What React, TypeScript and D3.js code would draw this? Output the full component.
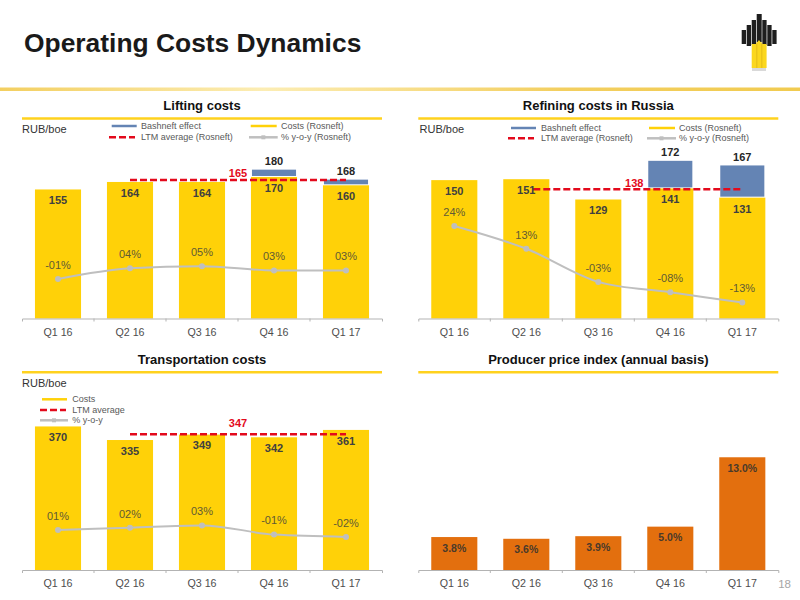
import { useEffect, useRef } from 'react';
import * as d3 from 'd3';

const quarters = ['Q1 16', 'Q2 16', 'Q3 16', 'Q4 16', 'Q1 17'];

const liftingCosts = [155, 164, 164, 170, 160];
const liftingTotals = [null, null, null, 180, 168];
const liftingPct = [-1, 4, 5, 3, 3];

const refiningCosts = [150, 151, 129, 141, 131];
const refiningTotals = [null, null, null, 172, 167];
const refiningPct = [24, 13, -3, -8, -13];

const transportCosts = [370, 335, 349, 342, 361];
const transportPct = [1, 2, 3, -1, -2];

const ppiValues = [3.8, 3.6, 3.9, 5.0, 13.0];

const YELLOW = '#FFD108';
const BLUE = '#6484B4';
const RED = '#E30A1C';
const GRAY = '#BFBFBF';
const ORANGE = '#E36F0E';
const FONT = '"Liberation Sans", Arial, sans-serif';

const pctLabel = (v: number) => (v < 0 ? '-' : '') + String(Math.abs(v)).padStart(2, '0') + '%';

interface Panel {
  title: string;
  left: number;
  ruleY: number;
  titleY: number;
  base: number;
  yDomain: [number, number];
  yTop: number;
  costs: number[];
  totals?: (number | null)[];
  pct?: number[];
  pctRange?: [number, number];
  ltm?: number;
  ltmY?: number; // the dashed line sits on its own axis in the original
  ltmLabelY?: number;
  ltmStartPad?: number;
  color: string;
  format?: (v: number) => string;
}

const panels: Panel[] = [
  {
    title: 'Lifting costs', left: 22, ruleY: 118.5, titleY: 110, base: 318.5,
    yDomain: [0, 200], yTop: 152, costs: liftingCosts, totals: liftingTotals,
    pct: liftingPct, pctRange: [319.7, 212.7], ltm: 165, ltmY: 180, ltmLabelY: 173.3, color: YELLOW,
  },
  {
    title: 'Refining costs in Russia', left: 418.3, ruleY: 118.5, titleY: 110, base: 318.5,
    yDomain: [0, 200], yTop: 134, costs: refiningCosts, totals: refiningTotals,
    pct: refiningPct, pctRange: [317.1, 213.6], ltm: 138, ltmY: 189.3, ltmLabelY: 183, ltmStartPad: 7, color: YELLOW,
  },
  {
    title: 'Transportation costs', left: 22, ruleY: 372.3, titleY: 364, base: 570,
    yDomain: [0, 400], yTop: 414.8, costs: transportCosts,
    pct: transportPct, pctRange: [578.3, 463.3], ltm: 347, ltmY: 434.3, ltmLabelY: 423.3, color: YELLOW,
  },
  {
    title: 'Producer price index (annual basis)', left: 418.3, ruleY: 372.3, titleY: 364, base: 570,
    yDomain: [0, 14], yTop: 448.6, costs: ppiValues, color: ORANGE,
    format: v => v.toFixed(1) + '%',
  },
];

type Sel = d3.Selection<SVGGElement, unknown, null, undefined>;

function addText(g: Sel, x: number, y: number, text: string, size: number, fill: string, bold = false, anchor = 'middle') {
  return g.append('text')
    .attr('x', x)
    .attr('y', y)
    .attr('dy', '0.35em')
    .attr('text-anchor', anchor)
    .attr('font-size', size)
    .attr('font-weight', bold ? 'bold' : 'normal')
    .attr('fill', fill)
    .text(text);
}

function legendLine(g: Sel, x1: number, x2: number, y: number, kind: 'blue' | 'yellow' | 'red' | 'gray') {
  const color = { blue: BLUE, yellow: YELLOW, red: RED, gray: GRAY }[kind];
  const line = g.append('line')
    .attr('x1', x1).attr('x2', x2).attr('y1', y).attr('y2', y)
    .attr('stroke', color)
    .attr('stroke-width', 2.5);
  if (kind === 'red') line.attr('stroke-dasharray', '7,3');
  if (kind === 'gray') {
    g.append('rect')
      .attr('x', (x1 + x2) / 2 - 2).attr('y', y - 2)
      .attr('width', 4).attr('height', 4)
      .attr('fill', color);
  }
}

function drawPanel(root: Sel, p: Panel) {
  const g = root.append('g');
  const width = 360;

  addText(g, p.left + width / 2, p.titleY - 4.5, p.title, 13, '#111', true);
  g.append('line')
    .attr('x1', p.left).attr('x2', p.left + width)
    .attr('y1', p.ruleY).attr('y2', p.ruleY)
    .attr('stroke', '#FFD21E')
    .attr('stroke-width', 2.5);

  const x = d3.scaleBand<string>()
    .domain(quarters)
    .range([p.left, p.left + width])
    .paddingInner(0.36)
    .paddingOuter(0.18);
  const y = d3.scaleLinear().domain(p.yDomain).range([p.base, p.yTop]);
  const center = (i: number) => (x(quarters[i]) as number) + x.bandwidth() / 2;

  // Bashneft effect sits on top of the Rosneft costs
  if (p.totals) {
    g.selectAll('rect.effect')
      .data(p.totals.map((t, i) => ({ t, i })).filter(d => d.t !== null))
      .join('rect')
      .attr('class', 'effect')
      .attr('x', d => x(quarters[d.i]) as number)
      .attr('width', x.bandwidth())
      .attr('y', d => y(d.t as number))
      .attr('height', d => y(p.costs[d.i]) - y(d.t as number))
      .attr('fill', BLUE)
      .attr('stroke', '#fff')
      .attr('stroke-width', 2);
  }

  g.selectAll('rect.cost')
    .data(p.costs)
    .join('rect')
    .attr('class', 'cost')
    .attr('x', (_, i) => x(quarters[i]) as number)
    .attr('width', x.bandwidth())
    .attr('y', d => y(d))
    .attr('height', d => p.base - y(d))
    .attr('fill', p.color);

  // axis: labels from d3, ticks on the band edges like the original
  const axis = g.append('g')
    .attr('transform', `translate(0,${p.base})`)
    .call(d3.axisBottom(x).tickSize(0).tickPadding(9.5).tickSizeOuter(3));
  axis.select('.domain').attr('stroke', '#B3B3B3').attr('stroke-width', 1);
  axis.selectAll('text')
    .attr('font-family', FONT)
    .attr('font-size', 10.7)
    .attr('fill', '#4D4D4D');
  quarters.slice(1).forEach((_, i) => {
    const tx = p.left + (width / quarters.length) * (i + 1);
    axis.append('line')
      .attr('x1', tx).attr('x2', tx).attr('y1', 0).attr('y2', 3)
      .attr('stroke', '#B3B3B3');
  });

  if (p.pct && p.pctRange) {
    const yPct = d3.scaleLinear().domain([-20, 30]).range(p.pctRange);
    const line = d3.line<number>()
      .x((_, i) => center(i))
      .y(d => yPct(d))
      .curve(d3.curveMonotoneX);
    g.append('path')
      .datum(p.pct)
      .attr('fill', 'none')
      .attr('stroke', GRAY)
      .attr('stroke-width', 2)
      .attr('d', line);
    g.selectAll('circle.pt')
      .data(p.pct)
      .join('circle')
      .attr('class', 'pt')
      .attr('cx', (_, i) => center(i))
      .attr('cy', d => yPct(d))
      .attr('r', 3)
      .attr('fill', GRAY);
    p.pct.forEach((v, i) => {
      addText(g, center(i), yPct(v) - 14, pctLabel(v), 11, '#5F5A35');
    });
  }

  if (p.ltm !== undefined && p.ltmY !== undefined) {
    g.append('line')
      .attr('x1', center(1) + (p.ltmStartPad || 0)).attr('x2', center(4))
      .attr('y1', p.ltmY).attr('y2', p.ltmY)
      .attr('stroke', RED)
      .attr('stroke-width', 2.5)
      .attr('stroke-dasharray', '7,3');
    addText(g, (center(1) + center(4)) / 2, p.ltmLabelY as number, String(p.ltm), 11, RED, true);
  }

  p.costs.forEach((v, i) => {
    addText(g, center(i), y(v) + 11, p.format ? p.format(v) : String(v), p.format ? 10.5 : 11, p.format ? '#4A3A2A' : '#404040', true);
  });
  (p.totals || []).forEach((t, i) => {
    if (t !== null) addText(g, center(i), y(t) - 7.5, String(t), 11, '#262626', true);
  });
}

function drawLogo(root: Sel) {
  const g = root.append('g');
  const black = [
    [741.7, 30, 4.3, 14],
    [746.7, 25, 4.3, 21],
    [751.7, 20, 4.3, 25],
    [756.7, 14, 5, 28],
    [762.3, 20, 4.3, 25],
    [767.3, 25, 4.3, 21],
    [772.3, 30, 4.3, 14],
  ];
  g.selectAll('rect.k')
    .data(black)
    .join('rect')
    .attr('class', 'k')
    .attr('x', d => d[0]).attr('y', d => d[1])
    .attr('width', d => d[2]).attr('height', d => d[3])
    .attr('fill', '#1E1E1E');
  g.append('path').attr('d', 'M751.7 44 L756 44 L759 40 L762 44 L766.6 44 L766.6 68 L751.7 68 Z').attr('fill', '#FBD71E');
  g.append('rect').attr('x', 756.4).attr('y', 42).attr('width', 0.9).attr('height', 26).attr('fill', '#E0B818');
  g.append('rect').attr('x', 761.4).attr('y', 42).attr('width', 0.9).attr('height', 26).attr('fill', '#E0B818');
  g.append('rect').attr('x', 752).attr('y', 68).attr('width', 14).attr('height', 3).attr('fill', '#D9D9D9');
}

export default function App() {
  const svgRef = useRef<SVGSVGElement>(null);

  useEffect(() => {
    if (!svgRef.current) return;
    d3.select(svgRef.current).selectAll('*').remove();

    const svg = d3.select(svgRef.current);
    const defs = svg.append('defs');
    const grad = defs.append('linearGradient').attr('id', 'headRule');
    grad.append('stop').attr('offset', '0%').attr('stop-color', '#F3CF60');
    grad.append('stop').attr('offset', '33%').attr('stop-color', '#FCEDB4');
    grad.append('stop').attr('offset', '70%').attr('stop-color', '#F3CF60');
    grad.append('stop').attr('offset', '100%').attr('stop-color', '#F1CB50');

    const root = svg.append('g').attr('font-family', FONT) as unknown as Sel;

    root.append('text')
      .attr('x', 24).attr('y', 52)
      .attr('font-size', 26.4)
      .attr('font-weight', 'bold')
      .attr('fill', '#1A1A1A')
      .text('Operating Costs Dynamics');
    root.append('rect')
      .attr('x', 0).attr('y', 87.5)
      .attr('width', 800).attr('height', 3.5)
      .attr('fill', 'url(#headRule)');
    drawLogo(root);

    panels.forEach(p => drawPanel(root, p));

    // Legends
    const LEG = '#595959';
    addText(root, 22, 129, 'RUB/boe', 11, '#333', false, 'start');
    legendLine(root, 111.7, 136.7, 126, 'blue');
    addText(root, 141, 126, 'Bashneft effect', 9, LEG, false, 'start');
    legendLine(root, 109, 135, 137.3, 'red');
    addText(root, 141, 137.3, 'LTM average (Rosneft)', 9, LEG, false, 'start');
    legendLine(root, 250.7, 276.7, 126, 'yellow');
    addText(root, 281, 126, 'Costs (Rosneft)', 9, LEG, false, 'start');
    legendLine(root, 249, 277.7, 137.3, 'gray');
    addText(root, 281, 137.3, '% y-o-y (Rosneft)', 9, LEG, false, 'start');

    addText(root, 419.5, 129, 'RUB/boe', 11, '#333', false, 'start');
    legendLine(root, 511, 536, 128, 'blue');
    addText(root, 541, 128, 'Bashneft effect', 9, LEG, false, 'start');
    legendLine(root, 508, 534, 138.3, 'red');
    addText(root, 541, 138.3, 'LTM average (Rosneft)', 9, LEG, false, 'start');
    legendLine(root, 649, 675, 128, 'yellow');
    addText(root, 679, 128, 'Costs (Rosneft)', 9, LEG, false, 'start');
    legendLine(root, 647, 676, 138.3, 'gray');
    addText(root, 679, 138.3, '% y-o-y (Rosneft)', 9, LEG, false, 'start');

    addText(root, 22, 383, 'RUB/boe', 11, '#333', false, 'start');
    legendLine(root, 42, 67, 399.3, 'yellow');
    addText(root, 72.3, 399.3, 'Costs', 9, LEG, false, 'start');
    legendLine(root, 40, 66, 410, 'red');
    addText(root, 72.3, 410, 'LTM average', 9, LEG, false, 'start');
    legendLine(root, 40, 68, 420.3, 'gray');
    addText(root, 72.3, 420.3, '% y-o-y', 9, LEG, false, 'start');

    addText(root, 791, 584, '18', 11.5, '#A6A6A6', false, 'end');
  }, []);

  return (
    <svg
      ref={svgRef}
      width={800}
      height={600}
      style={{ position: 'absolute', left: 0, top: 0, background: '#fff' }}
    ></svg>
  );
}
